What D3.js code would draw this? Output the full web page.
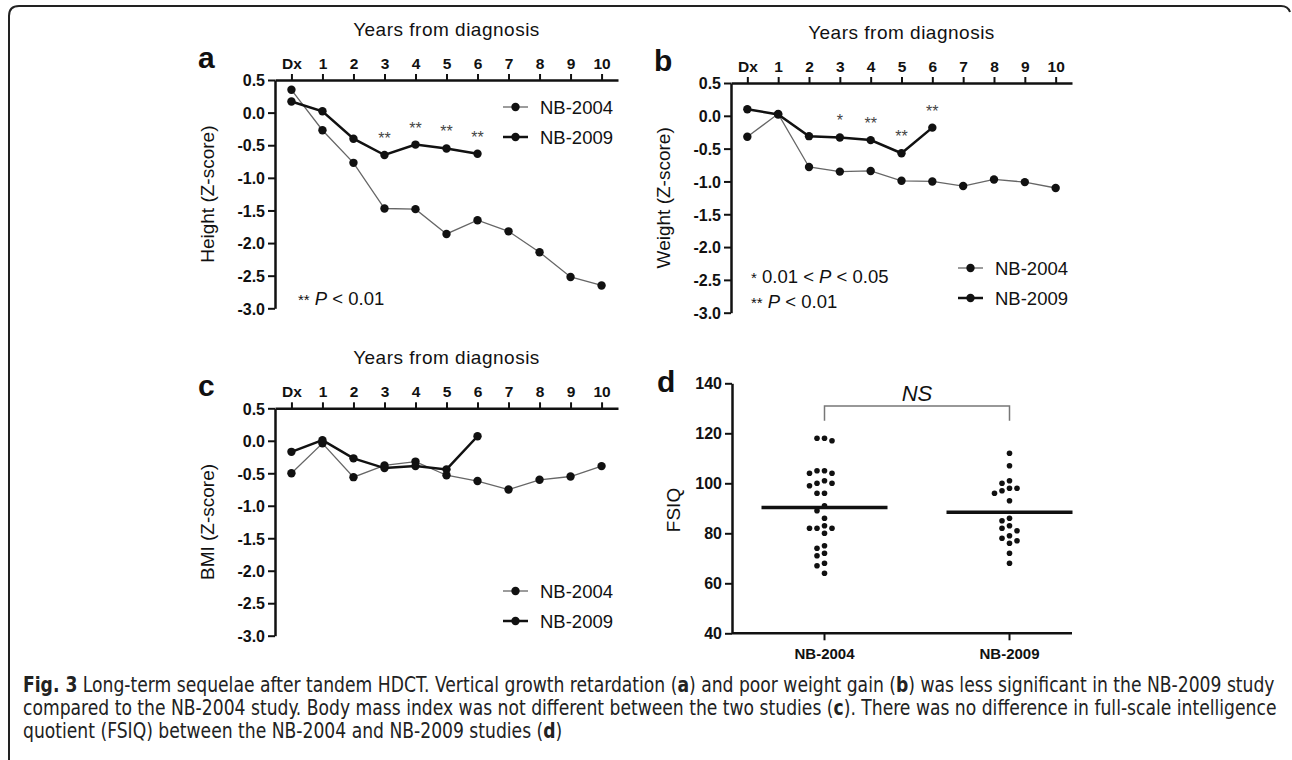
<!DOCTYPE html>
<html>
<head>
<meta charset="utf-8">
<script src="https://cdn.jsdelivr.net/npm/d3@7"></script>
<style>
    body { margin: 0; background: #fff; }
    svg { display: block; font-family: "Liberation Sans", Arial, sans-serif; }
</style>
</head>
<body>
<svg id="fig" width="1292" height="760"></svg>
<script>
// values
const years = ["Dx", "1", "2", "3", "4", "5", "6", "7", "8", "9", "10"];
const zTicks = [0.5, 0, -0.5, -1, -1.5, -2, -2.5, -3];

const heightNB2004 = [0.35, -0.27, -0.77, -1.47, -1.48, -1.86, -1.65, -1.82, -2.14, -2.52, -2.65];
const heightNB2009 = [0.17, 0.02, -0.40, -0.65, -0.49, -0.55, -0.63];
const heightStars = ["", "", "", "**", "**", "**", "**"];

const weightNB2004 = [-0.32, 0.03, -0.78, -0.85, -0.84, -0.99, -1.00, -1.07, -0.97, -1.01, -1.10];
const weightNB2009 = [0.10, 0.02, -0.31, -0.33, -0.37, -0.57, -0.18];
const weightStars = ["", "", "", "*", "**", "**", "**"];

const bmiNB2004 = [-0.50, -0.04, -0.56, -0.38, -0.32, -0.53, -0.62, -0.75, -0.60, -0.55, -0.39];
const bmiNB2009 = [-0.17, 0.01, -0.27, -0.42, -0.39, -0.44, 0.07];

const groups = ["NB-2004", "NB-2009"];
const fsiqTicks = [40, 60, 80, 100, 120, 140];
const fsiqNB2004 = [118, 117, 118, 105, 104, 104, 105, 100, 99, 100, 101, 96, 96, 91, 89, 86,
                    82, 82, 80, 82, 83, 75, 74, 72, 71, 68, 67, 64];
const fsiqNB2009 = [112, 107, 101, 100, 98, 96, 97, 98, 93, 86, 85, 82, 83, 81, 79, 78, 77, 76, 72, 68];

const svg = d3.select("#fig");

// frame
svg.append("path")
    .attr("d", "M9,760 V16 Q9,6 19,6 H1281 Q1288,6 1290,12")
    .attr("fill", "none")
    .attr("stroke", "#222")
    .attr("stroke-width", 2);

function styleAxis(ax, fontSize) {
    ax.select(".domain").attr("stroke", "#111").attr("stroke-width", 2.5);
    ax.selectAll(".tick line").attr("stroke", "#111").attr("stroke-width", 2);
    ax.selectAll(".tick text")
        .attr("fill", "#111")
        .style("font-size", fontSize)
        .style("font-weight", "bold");
}

function addText(g, txt, x, y, anchor, fontSize, weight) {
    return g.append("text")
        .text(txt)
        .attr("x", x)
        .attr("y", y)
        .attr("fill", "#111")
        .style("text-anchor", anchor)
        .style("font-size", fontSize)
        .style("font-weight", weight || "normal");
}

function addYTitle(g, txt, x, y) {
    return g.append("text")
        .text(txt)
        .attr("transform", `translate(${x},${y}) rotate(-90)`)
        .attr("dy", "0.35em")
        .attr("fill", "#111")
        .style("text-anchor", "middle")
        .style("font-size", "19px");
}

function addLegend(g, x0, y0, thick, label) {
    g.append("line")
        .attr("x1", x0).attr("x2", x0 + 25)
        .attr("y1", y0).attr("y2", y0)
        .attr("stroke", thick ? "#111" : "#666")
        .attr("stroke-width", thick ? 2.5 : 1.3);
    g.append("circle")
        .attr("cx", x0 + 12.5).attr("cy", y0).attr("r", 4.2)
        .attr("fill", "#111");
    addText(g, label, x0 + 37, y0 + 6.5, "start", "18.5px");
}

function zPanel(box, letter, yTitle, s2004, s2009, stars) {
    const g = svg.append("g");
    const x = d3.scaleLinear().domain([-0.53, 10.53]).range([box.left, box.right]);
    const y = d3.scaleLinear().domain([0.5, -3]).range([box.top, box.bottom]);

    const xAx = g.append("g")
        .attr("transform", `translate(0,${box.top})`)
        .call(d3.axisTop(x)
            .tickValues(d3.range(years.length))
            .tickFormat(i => years[i])
            .tickSize(6).tickSizeOuter(0).tickPadding(5));
    styleAxis(xAx, "15.5px");

    const yAx = g.append("g")
        .attr("transform", `translate(${box.left},0)`)
        .call(d3.axisLeft(y)
            .tickValues(zTicks)
            .tickFormat(d => d.toFixed(1))
            .tickSize(7).tickSizeOuter(0).tickPadding(3));
    styleAxis(yAx, "16px");
    yAx.selectAll(".tick text").attr("dy", "0.36em");

    addText(g, "Years from diagnosis", (box.left + box.right) / 2, box.top - 44, "middle", "19px")
        .style("letter-spacing", "0.5px");
    addText(g, letter, box.left - 77, box.top - 12, "start", "30px", "bold");
    addYTitle(g, yTitle, box.left - 68, (box.top + box.bottom) / 2);

    const line = d3.line().x((d, i) => x(i)).y(d => y(d));

    g.append("path")
        .datum(s2004)
        .attr("d", line)
        .attr("fill", "none")
        .attr("stroke", "#666")
        .attr("stroke-width", 1.3);
    g.append("path")
        .datum(s2009)
        .attr("d", line)
        .attr("fill", "none")
        .attr("stroke", "#111")
        .attr("stroke-width", 2.5);

    g.selectAll("circle.p04")
        .data(s2004)
        .enter()
        .append("circle")
        .attr("class", "p04")
        .attr("cx", (d, i) => x(i))
        .attr("cy", d => y(d))
        .attr("r", 4.2)
        .attr("fill", "#111");
    g.selectAll("circle.p09")
        .data(s2009)
        .enter()
        .append("circle")
        .attr("class", "p09")
        .attr("cx", (d, i) => x(i))
        .attr("cy", d => y(d))
        .attr("r", 4.2)
        .attr("fill", "#111");

    if (stars) {
        g.selectAll("text.star")
            .data(stars)
            .enter()
            .append("text")
            .attr("class", "star")
            .text(d => d)
            .attr("x", (d, i) => x(i))
            .attr("y", (d, i) => y(s2009[i]) - 11)
            .attr("fill", "#444")
            .style("text-anchor", "middle")
            .style("font-size", "16px");
    }
    return g;
}

function pNote(g, x, y, stars, pre, post) {
    const t = g.append("text")
        .attr("x", x).attr("y", y)
        .attr("fill", "#111")
        .style("font-size", "18.5px");
    t.append("tspan").text(stars).style("font-size", "15px");
    t.append("tspan").text(pre);
    t.append("tspan").text("P").style("font-style", "italic");
    t.append("tspan").text(post);
}

// panel a
const gA = zPanel({left: 275, right: 618, top: 80, bottom: 308.3}, "a", "Height (Z-score)",
    heightNB2004, heightNB2009, heightStars);
addLegend(gA, 503, 107, false, groups[0]);
addLegend(gA, 503, 137, true, groups[1]);
pNote(gA, 298, 305, "**", " ", " < 0.01");

// panel b
const gB = zPanel({left: 731, right: 1072, top: 83, bottom: 312.7}, "b", "Weight (Z-score)",
    weightNB2004, weightNB2009, weightStars);
addLegend(gB, 958, 268, false, groups[0]);
addLegend(gB, 958, 298, true, groups[1]);
pNote(gB, 751, 283, "*", " 0.01 < ", " < 0.05");
pNote(gB, 751, 308, "**", " ", " < 0.01");

// panel c
const gC = zPanel({left: 275, right: 618, top: 408.3, bottom: 635.7}, "c", "BMI (Z-score)",
    bmiNB2004, bmiNB2009, null);
addLegend(gC, 503, 591, false, groups[0]);
addLegend(gC, 503, 621, true, groups[1]);

// panel d
const dLeft = 732, dRight = 1072;
const gD = svg.append("g");
const xD = d3.scaleBand().domain(groups).range([dLeft, 1102]);
const yD = d3.scaleLinear().domain([40, 140]).range([633.3, 383.3]);

const xDAx = gD.append("g")
    .attr("transform", `translate(0,${yD.range()[0]})`)
    .call(d3.axisBottom(xD).tickSize(7).tickSizeOuter(0).tickPadding(8));
styleAxis(xDAx, "15px");
// baseline stops at the right end of the NB-2009 mean bar
xDAx.select(".domain").attr("d", `M${dLeft},0H${dRight}`);

const yDAx = gD.append("g")
    .attr("transform", `translate(${dLeft},0)`)
    .call(d3.axisLeft(yD).tickValues(fsiqTicks).tickSize(7).tickSizeOuter(0).tickPadding(3));
styleAxis(yDAx, "16px");

addText(gD, "d", 657, 392, "start", "30px", "bold");
addYTitle(gD, "FSIQ", 673, 510);

function swarm(values, cx) {
    const placed = [];
    values.slice().sort((a, b) => b - a).forEach(v => {
        const py = yD(v);
        const steps = [0, -1, 1, -2, 2, -3, 3, -4, 4];
        for (const s of steps) {
            const px = cx + s * 7.5;
            const hit = placed.some(p => Math.hypot(p.x - px, p.y - py) < 6.8);
            if (!hit) { placed.push({x: px, y: py, v: v}); break; }
        }
    });
    return placed;
}

[fsiqNB2004, fsiqNB2009].forEach((vals, k) => {
    const cx = xD(groups[k]) + xD.bandwidth() / 2;
    gD.append("g")
        .selectAll("circle")
        .data(swarm(vals, cx))
        .enter()
        .append("circle")
        .attr("cx", d => d.x)
        .attr("cy", d => d.y)
        .attr("r", 2.8)
        .attr("fill", "#111");
    const m = d3.mean(vals);
    gD.append("line")
        .attr("x1", cx - 63).attr("x2", cx + 63)
        .attr("y1", yD(m)).attr("y2", yD(m))
        .attr("stroke", "#111")
        .attr("stroke-width", 3.5);
});

const c04 = xD(groups[0]) + xD.bandwidth() / 2;
const c09 = xD(groups[1]) + xD.bandwidth() / 2;
gD.append("path")
    .attr("d", `M${c04},420.7 V406 H${c09} V420.7`)
    .attr("fill", "none")
    .attr("stroke", "#777")
    .attr("stroke-width", 1.5);
addText(gD, "NS", (c04 + c09) / 2, 401, "middle", "22px").style("font-style", "italic");

// caption
const capLines = [
    [["Fig. 3", 1], [" Long-term sequelae after tandem HDCT. Vertical growth retardation (", 0], ["a", 1],
     [") and poor weight gain (", 0], ["b", 1], [") was less significant in the NB-2009 study", 0]],
    [["compared to the NB-2004 study. Body mass index was not different between the two studies (", 0],
     ["c", 1], ["). There was no difference in full-scale intelligence", 0]],
    [["quotient (FSIQ) between the NB-2004 and NB-2009 studies (", 0], ["d", 1], [")", 0]]
];
const capWidth = [1252, 1254, null];
const capGroup = svg.append("g")
    .style("font-family", "'Liberation Sans Narrow', 'DejaVu Sans Condensed', sans-serif");
let firstScale = 1;
capLines.forEach((parts, i) => {
    const t = capGroup.append("text")
        .attr("fill", "#222")
        .style("font-size", "21px");
    parts.forEach(p => {
        t.append("tspan").text(p[0]).style("font-weight", p[1] ? "bold" : "normal");
    });
    const w = t.node().getComputedTextLength();
    const k = capWidth[i] ? capWidth[i] / w : firstScale;
    if (i === 0) firstScale = k;
    t.attr("transform", `translate(23,${692 + i * 23}) scale(${k},1)`);
});
</script>
</body>
</html>
